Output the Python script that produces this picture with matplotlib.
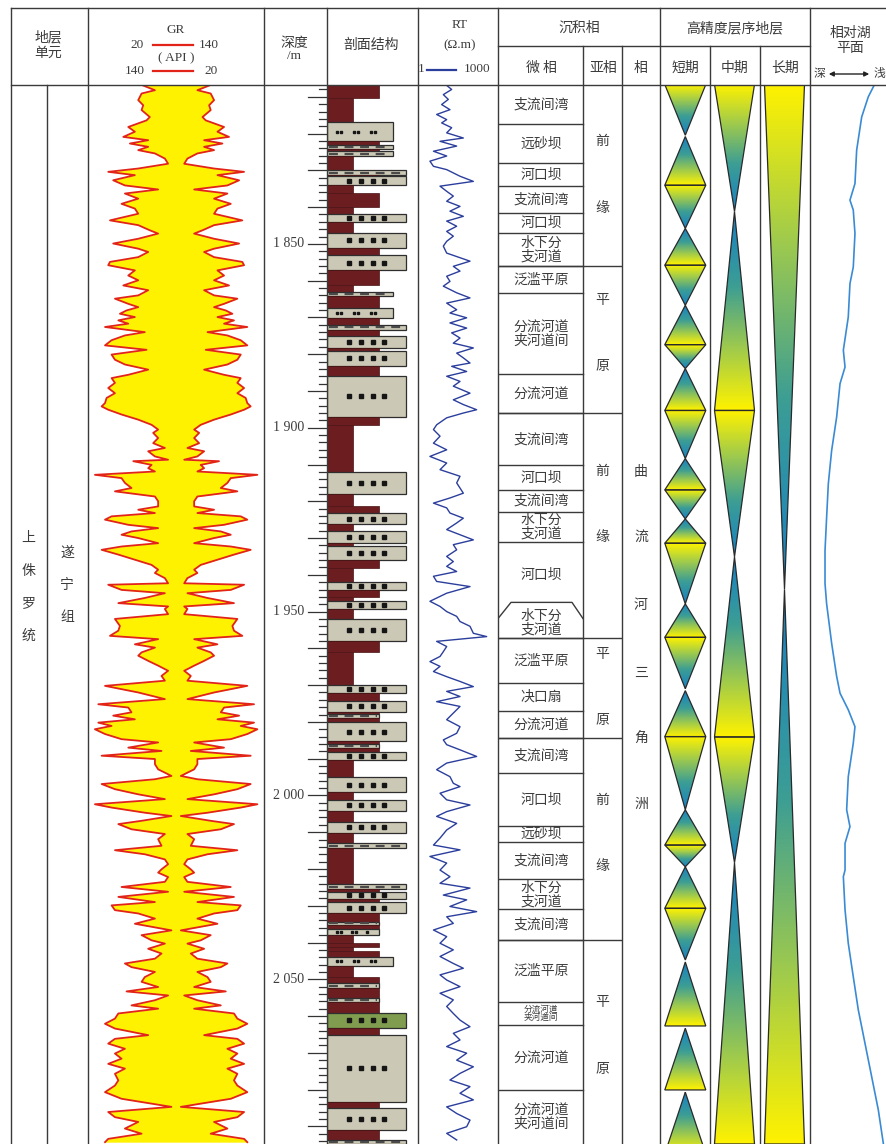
import numpy as np
import matplotlib
matplotlib.use('Agg')
import matplotlib.pyplot as plt
from matplotlib.patches import Polygon, Rectangle
from matplotlib.colors import LinearSegmentedColormap

# 中文字体 + 回退
plt.rcParams['font.family'] = ['Noto Sans CJK SC', 'DejaVu Sans']
SERIF = ['Liberation Serif', 'DejaVu Serif']

# ---------------- 数据 (深度 m) ----------------
# GR 曲线 (深度, API)
GR_PTS = [
    (1806.4, 54.1), (1808.2, 65.5), (1809.1, 56.4), (1810.9, 54.1), (1812.3, 57.5), (1813.6, 56.4),
    (1815.5, 62.0), (1816.4, 59.8), (1818.2, 47.3), (1819.5, 51.8), (1820.9, 43.9), (1821.8, 60.9),
    (1822.7, 48.4), (1823.6, 60.9), (1824.5, 54.1), (1825.4, 65.5), (1826.8, 72.3), (1828.2, 74.5),
    (1829.5, 54.1), (1830.4, 33.6), (1831.3, 51.8), (1832.7, 37.0), (1834.1, 45.0), (1835.2, 67.7),
    (1836.3, 45.0), (1837.7, 54.1), (1839.1, 42.7), (1840.4, 51.8), (1841.8, 54.1), (1843.6, 34.8),
    (1844.9, 54.1), (1846.3, 62.0), (1847.2, 67.7), (1848.6, 54.1), (1849.9, 37.0), (1851.3, 54.1),
    (1852.2, 60.9), (1853.6, 54.1), (1854.9, 34.8), (1855.8, 33.6), (1857.2, 51.8), (1858.6, 47.3),
    (1859.9, 54.1), (1861.3, 43.9), (1862.6, 60.9), (1864.0, 54.1), (1864.9, 38.2), (1866.3, 47.3),
    (1867.2, 54.1), (1868.1, 46.1), (1869.0, 41.6), (1869.9, 51.8), (1870.8, 40.5), (1871.7, 47.3),
    (1872.6, 31.4), (1874.0, 58.6), (1874.9, 45.0), (1876.2, 35.9), (1877.6, 31.4),
    (1878.8, 59.8), (1880.1, 35.9), (1881.5, 38.2), (1882.8, 45.0), (1884.2, 60.9), (1885.6, 47.3),
    (1886.5, 35.9), (1887.8, 38.2), (1889.2, 33.6), (1890.6, 38.2), (1891.9, 32.5), (1893.3, 31.4),
    (1894.2, 29.1), (1895.1, 33.6), (1896.4, 42.7), (1897.8, 54.1), (1899.2, 63.2), (1900.5, 67.7),
    (1901.4, 64.3), (1902.8, 67.7), (1904.2, 64.3), (1905.5, 72.3), (1906.4, 60.9), (1907.8, 65.5),
    (1908.7, 74.5), (1909.1, 50.7), (1910.1, 63.2), (1911.0, 60.9), (1911.9, 65.5), (1912.8, 24.5),
    (1913.7, 42.7), (1915.0, 45.0), (1916.4, 49.5), (1917.3, 38.2), (1918.7, 65.5), (1920.0, 67.7),
    (1921.4, 67.7), (1922.3, 54.1), (1923.2, 65.5), (1924.1, 35.9), (1925.0, 31.4), (1926.4, 47.3),
    (1927.3, 67.7), (1928.2, 49.5), (1929.1, 42.7), (1930.0, 54.1), (1931.4, 67.7), (1932.3, 42.7),
    (1933.2, 29.1), (1934.5, 40.5), (1935.9, 51.8), (1937.3, 63.2), (1938.6, 67.7), (1939.5, 65.5),
    (1940.9, 72.3), (1942.3, 74.5), (1942.7, 33.6), (1944.1, 42.7), (1945.0, 72.3), (1946.3, 58.6),
    (1947.7, 40.5), (1948.6, 74.5),
    (1949.3, 72.3), (1950.7, 74.5), (1952.0, 38.2), (1953.9, 41.6), (1955.2, 40.5), (1956.6, 34.8),
    (1957.5, 67.7), (1958.9, 51.8), (1959.8, 65.5), (1961.1, 56.4), (1962.0, 54.1), (1963.4, 60.9),
    (1964.7, 67.7), (1966.1, 74.5), (1967.5, 70.0), (1968.8, 72.3), (1970.2, 31.4), (1972.0, 54.1),
    (1973.8, 72.3), (1975.2, 26.8), (1976.1, 47.3), (1977.4, 49.5), (1978.3, 37.0), (1979.3, 51.8),
    (1980.2, 26.8), (1981.1, 35.9), (1982.0, 24.5), (1983.3, 31.4), (1984.7, 42.7), (1985.6, 67.7),
    (1987.0, 47.3), (1987.9, 70.0), (1989.2, 29.1), (1990.1, 65.5), (1991.5, 65.5), (1992.9, 67.7),
    (1994.7, 76.8), (1995.6, 65.5), (1996.9, 29.1), (1998.3, 38.2), (1999.7, 54.1), (2001.0, 72.3),
    (2002.4, 24.5), (2003.3, 35.9), (2004.7, 58.6), (2005.6, 76.8), (2006.9, 56.4), (2007.8, 40.5),
    (2009.2, 49.5), (2010.5, 72.3), (2011.9, 67.7), (2013.7, 70.0), (2014.9, 38.2), (2016.0, 58.6),
    (2017.4, 72.3), (2018.7, 74.5), (2020.1, 70.0), (2021.0, 67.7),
    (2022.2, 74.5), (2023.5, 72.3), (2024.9, 42.7), (2026.2, 74.5), (2027.6, 40.5), (2029.0, 65.5),
    (2029.9, 35.9), (2031.2, 38.2), (2032.1, 54.1), (2033.5, 65.5), (2034.9, 51.8), (2036.7, 76.8),
    (2038.0, 56.4), (2039.4, 63.2), (2040.3, 72.3), (2041.7, 60.9), (2043.0, 70.0), (2044.4, 65.5),
    (2045.7, 45.0), (2046.7, 49.5), (2048.0, 65.5), (2049.4, 58.6), (2050.7, 56.4), (2052.1, 67.7),
    (2053.3, 46.1), (2054.4, 74.5), (2055.7, 65.5), (2057.1, 49.5), (2058.0, 67.7), (2059.3, 40.5),
    (2060.7, 38.2), (2062.1, 31.4), (2063.4, 38.2), (2065.2, 60.9), (2066.2, 38.2), (2067.5, 33.6),
    (2068.9, 45.0), (2070.2, 38.2), (2071.6, 42.7), (2073.0, 33.6), (2074.3, 45.0), (2075.7, 38.2),
    (2077.5, 40.5), (2078.9, 38.2), (2080.7, 31.4), (2082.5, 42.7), (2084.7, 76.8), (2086.1, 33.6),
    (2087.5, 38.2), (2088.8, 54.1), (2090.6, 45.0), (2092.0, 56.4), (2093.4, 33.6), (2094.3, 31.4),
]

# RT 曲线 (深度, Ω.m)
RT_PTS = [
    (1806.9, 11.9), (1808.0, 18.3), (1809.4, 8.9), (1810.7, 13.7), (1812.1, 7.7), (1813.5, 15.8),
    (1814.8, 5.0), (1816.2, 11.9), (1817.1, 7.7), (1818.4, 18.3), (1819.8, 11.9), (1821.2, 50.1),
    (1822.1, 6.7), (1823.4, 28.2), (1824.8, 3.8), (1826.1, 11.9), (1827.5, 2.8), (1828.9, 3.8),
    (1829.8, 11.9), (1831.6, 37.6), (1833.0, 119), (1834.3, 6.7), (1835.7, 11.9), (1837.0, 21.1),
    (1838.4, 11.9), (1839.8, 37.6), (1841.1, 15.8), (1842.5, 50.1), (1843.8, 11.9), (1845.2, 28.2),
    (1846.6, 11.9), (1847.9, 21.1), (1849.3, 11.9), (1850.6, 8.9), (1852.5, 11.9), (1854.7, 89.1),
    (1856.1, 21.1), (1857.4, 37.6), (1858.8, 11.9), (1860.2, 15.8), (1861.5, 8.9), (1863.3, 28.2),
    (1864.7, 89.1), (1866.1, 11.9), (1867.9, 28.2), (1868.8, 15.8), (1870.1, 66.8), (1871.5, 15.8),
    (1872.9, 66.8), (1874.2, 18.3), (1875.6, 37.6), (1877.0, 21.1), (1878.3, 119), (1879.7, 28.2),
    (1881.0, 50.1), (1882.4, 89.1), (1883.3, 18.3), (1884.7, 66.8), (1886.0, 11.9), (1887.4, 37.6),
    (1888.7, 21.1), (1890.6, 89.1), (1892.4, 21.1), (1893.7, 50.1), (1895.1, 158), (1896.0, 50.1),
    (1897.3, 11.9), (1899.2, 5.0),
    (1900.5, 3.8), (1902.3, 6.7), (1904.2, 3.8), (1906.0, 11.9), (1907.8, 2.8), (1909.6, 11.9),
    (1911.4, 6.7), (1913.2, 37.6), (1915.0, 28.2), (1917.8, 50.1), (1919.1, 15.8), (1920.5, 3.8),
    (1921.8, 11.9), (1923.2, 15.8), (1924.6, 50.1), (1925.9, 28.2), (1927.7, 11.9), (1929.1, 37.6),
    (1930.5, 119), (1931.8, 21.1), (1933.2, 28.2), (1935.0, 11.9), (1936.4, 21.1), (1937.7, 11.9),
    (1939.1, 28.2), (1940.4, 3.8), (1941.8, 5.0), (1943.2, 89.1), (1945.0, 11.9), (1946.3, 5.0),
    (1947.2, 2.8), (1948.6, 6.7), (1950.0, 11.9), (1951.3, 28.2), (1952.7, 37.6), (1954.0, 89.1),
    (1955.9, 119), (1956.8, 376), (1958.1, 5.0), (1959.5, 11.9), (1960.9, 8.9), (1962.2, 6.7),
    (1963.6, 2.8), (1964.9, 6.7), (1966.3, 3.8), (1967.7, 11.9), (1969.0, 37.6), (1970.4, 119),
    (1971.7, 11.9), (1973.1, 37.6), (1974.5, 5.0), (1975.8, 37.6), (1977.6, 21.1), (1979.4, 11.9),
    (1981.3, 37.6), (1983.1, 28.2), (1984.9, 8.9), (1986.2, 11.9), (1987.6, 37.6), (1989.4, 158),
    (1991.2, 11.9), (1993.0, 5.0), (1994.9, 15.8), (1996.7, 21.1),
    (1997.6, 37.6), (1999.4, 6.7), (2001.2, 11.9), (2002.6, 89.1), (2004.4, 11.9), (2005.7, 5.0),
    (2007.6, 28.2), (2009.4, 11.9), (2011.6, 6.7), (2013.5, 3.8), (2014.8, 37.6), (2016.6, 2.8),
    (2018.4, 11.9), (2020.3, 6.7), (2022.1, 15.8), (2023.9, 6.7), (2025.2, 89.1), (2027.1, 8.9),
    (2028.4, 66.8), (2030.2, 15.8), (2031.6, 158), (2033.0, 11.9), (2034.8, 21.1), (2036.6, 3.8),
    (2038.4, 11.9), (2040.2, 6.7), (2042.0, 21.1), (2043.8, 6.7), (2045.7, 21.1), (2047.0, 50.1),
    (2048.8, 6.7), (2050.2, 11.9), (2052.0, 37.6), (2053.8, 6.7), (2055.6, 21.1), (2057.4, 11.9),
    (2059.3, 21.1), (2061.1, 37.6), (2062.9, 89.1), (2064.7, 21.1), (2066.5, 37.6), (2068.3, 11.9),
    (2070.1, 66.8), (2072.0, 28.2), (2073.8, 119), (2075.6, 37.6), (2077.4, 15.8), (2079.2, 89.1),
    (2081.0, 37.6), (2082.8, 119), (2084.7, 11.9), (2086.5, 28.2), (2088.3, 89.1), (2090.1, 66.8),
    (2091.9, 11.9), (2093.7, 28.2),
]

# 相对湖平面 (深度, 0=深 1=浅)
LAKE_PTS = [
    (1806.4, 0.844), (1810.0, 0.757), (1815.5, 0.671), (1824.5, 0.606), (1833.6, 0.584),
    (1838.1, 0.519), (1840.8, 0.562), (1847.2, 0.584), (1856.3, 0.562), (1860.8, 0.519),
    (1869.9, 0.497), (1878.9, 0.433), (1883.5, 0.455), (1888.0, 0.390), (1897.1, 0.346),
    (1906.2, 0.281), (1915.2, 0.238), (1924.3, 0.216), (1933.4, 0.195), (1942.4, 0.195),
    (1947.9, 0.216), (1958.6, 0.281), (1967.6, 0.346), (1972.2, 0.390), (1976.7, 0.497),
    (1981.3, 0.584), (1985.8, 0.562), (1994.9, 0.497), (2003.9, 0.476), (2008.5, 0.519),
    (2013.0, 0.455), (2020.3, 0.455), (2022.1, 0.433), (2031.1, 0.455), (2040.2, 0.497),
    (2049.3, 0.562), (2058.3, 0.627), (2067.4, 0.714), (2076.5, 0.801), (2085.5, 0.887),
    (2094.6, 0.952),
]

# 岩性 (顶, 底, 类型)
LITH = [
    (1806.65, 1810.3, 'smud'), (1810.3, 1816.9, 'mud'), (1816.9, 1822.1, 'silt'),
    (1822.1, 1823.0, 'smud'), (1823.0, 1824.1, 'dsilt'), (1824.1, 1824.8, 'smud'),
    (1824.8, 1826.2, 'dsilt'), (1826.2, 1830.0, 'mud'), (1830.0, 1831.2, 'dsand'),
    (1831.2, 1831.5, 'smud'), (1831.5, 1834.1, 'sand'), (1834.1, 1836.1, 'mud'),
    (1836.1, 1840.0, 'smud'), (1840.0, 1842.0, 'mud'), (1842.0, 1844.1, 'sand'),
    (1844.1, 1847.0, 'mud'), (1847.0, 1851.1, 'sand'), (1851.1, 1853.1, 'smud'),
    (1853.1, 1857.2, 'sand'), (1857.2, 1861.1, 'smud'), (1861.1, 1863.1, 'mud'),
    (1863.1, 1864.3, 'dsilt'), (1864.3, 1867.3, 'smud'), (1867.3, 1870.2, 'silt'),
    (1870.2, 1872.0, 'smud'), (1872.0, 1873.3, 'dsand'), (1873.3, 1875.1, 'smud'),
    (1875.1, 1878.3, 'sand'), (1878.3, 1879.2, 'smud'), (1879.2, 1883.1, 'sand'),
    (1883.1, 1885.8, 'smud'), (1885.8, 1897.1, 'sand'), (1897.1, 1899.2, 'smud'),
    (1899.2, 1912.1, 'mud'), (1912.1, 1918.0, 'sand'), (1918.0, 1921.2, 'mud'),
    (1921.2, 1923.2, 'smud'), (1923.2, 1926.2, 'sand'), (1926.2, 1928.0, 'mud'),
    (1928.0, 1931.4, 'sand'), (1931.4, 1932.1, 'mud'), (1932.1, 1936.1, 'sand'),
    (1936.1, 1938.2, 'smud'), (1938.2, 1942.0, 'mud'), (1942.0, 1944.1, 'sand'),
    (1944.1, 1945.9, 'smud'), (1945.9, 1947.1, 'mud'), (1947.1, 1949.2, 'sand'),
    (1949.2, 1952.0, 'mud'), (1952.0, 1958.1, 'sand'), (1958.1, 1961.1, 'smud'),
    (1961.1, 1969.9, 'mud'), (1969.9, 1972.2, 'sand'), (1972.2, 1974.2, 'smud'),
    (1974.2, 1977.2, 'sand'), (1977.2, 1977.8, 'smud'), (1977.8, 1979.0, 'dmud'),
    (1979.0, 1980.1, 'smud'), (1980.1, 1985.3, 'sand'), (1985.3, 1986.0, 'smud'),
    (1986.0, 1987.2, 'dmud'), (1987.2, 1988.1, 'smud'), (1988.1, 1990.3, 'sand'),
    (1990.3, 1995.1, 'mud'), (1995.1, 1999.2, 'sand'), (1999.2, 2001.2, 'mud'),
    (2001.2, 2004.2, 'sand'), (2004.2, 2007.3, 'mud'), (2007.3, 2010.1, 'sand'),
    (2010.1, 2013.0, 'mud'), (2013.0, 2014.4, 'dsand'), (2014.4, 2024.1, 'mud'),
    (2024.1, 2025.5, 'dsand'), (2025.5, 2026.2, 'smud'), (2026.2, 2028.2, 'sand'),
    (2028.2, 2029.1, 'smud'), (2029.1, 2032.0, 'sand'), (2032.0, 2034.3, 'smud'),
    (2034.3, 2035.2, 'dmud'), (2035.2, 2036.4, 'smud'), (2036.4, 2038.0, 'msilt'),
    (2038.0, 2040.2, 'mud'), (2040.2, 2041.3, 'smud'), (2041.3, 2042.2, 'mud'),
    (2042.2, 2044.0, 'smud'), (2044.0, 2046.3, 'silt'), (2046.3, 2049.3, 'mud'),
    (2049.3, 2051.1, 'smud'), (2051.1, 2052.4, 'dmud'), (2052.4, 2055.2, 'smud'),
    (2055.2, 2056.1, 'dmud'), (2056.1, 2059.2, 'smud'), (2059.2, 2063.2, 'gsand'),
    (2063.2, 2065.2, 'smud'), (2065.2, 2083.3, 'sand'), (2083.3, 2085.1, 'smud'),
    (2085.1, 2091.0, 'sand'), (2091.0, 2093.7, 'smud'), (2093.7, 2094.8, 'dsand'),
]

# 沉积微相
MICRO_BOUNDS = [1806.65, 1817.5, 1828.1, 1834.2, 1841.6, 1847.0, 1856.1, 1863.3, 1885.5, 1896.0,
                1910.2, 1917.0, 1922.8, 1931.1, 1948.7, 1957.2, 1969.5, 1977.0, 1984.3, 1993.9,
                2008.3, 2012.8, 2022.8, 2031.0, 2039.3, 2056.1, 2062.4, 2080.1, 2094.8]
MICRO_NAMES = ['支流间湾', '远砂坝', '河口坝', '支流间湾', '河口坝', '水下分\n支河道', '泛滥平原',
               '分流河道\n夹河道间', '分流河道', '支流间湾', '河口坝', '支流间湾', '水下分\n支河道',
               '河口坝', '水下分\n支河道', '泛滥平原', '决口扇', '分流河道', '支流间湾', '河口坝',
               '远砂坝', '支流间湾', '水下分\n支河道', '支流间湾', '泛滥平原', '分流河道\n夹河道间',
               '分流河道', '分流河道\n夹河道间']

# 亚相
SUB_BOUNDS = [1806.65, 1856.1, 1896.0, 1957.2, 1984.3, 2039.3, 2094.8]
SUB_NAMES = ['前缘', '平原', '前缘', '平原', '前缘', '平原']
SUB_LABEL_D = [1831.1, 1874.3, 1920.8, 1970.6, 2010.3, 2065.3]

# 相
FACIES_NAME = '曲流河三角洲'
FACIES_D = [1912.1, 1929.8, 1948.3, 1966.8, 1984.5, 2002.2]

# 层序旋回 (顶, 底, 形态) v: 上宽下尖, ^: 上尖下宽
SHORT_SEG = [
    (1806.65, 1820.45, 'v'), (1820.8, 1834.05, '^'), (1834.05, 1845.8, 'v'), (1845.8, 1855.8, '^'),
    (1855.8, 1866.7, 'v'), (1866.7, 1877.4, '^'), (1877.4, 1883.9, 'v'), (1883.9, 1895.3, '^'),
    (1895.3, 1908.4, 'v'), (1908.4, 1916.9, '^'), (1916.9, 1924.8, 'v'), (1924.8, 1931.4, '^'),
    (1931.4, 1947.9, 'v'), (1947.9, 1957.0, '^'), (1957.0, 1971.0, 'v'), (1971.5, 1984.0, '^'),
    (1984.0, 2003.9, 'v'), (2003.9, 2013.5, '^'), (2013.5, 2019.4, 'v'), (2019.4, 2030.7, '^'),
    (2030.7, 2044.75, 'v'), (2045.3, 2062.7, '^'), (2063.3, 2080.1, '^'), (2080.7, 2097.5, '^'),
]
MID_SEG = [
    (1806.65, 1841.2, 'v'), (1841.2, 1895.3, '^'), (1895.3, 1935.1, 'v'),
    (1935.1, 1984.1, '^'), (1984.1, 2018.3, 'v'), (2018.3, 2094.8, '^'),
]
LONG_SEG = [(1806.65, 1944.0, 'v'), (1944.0, 2094.8, '^')]

DEPTH_LABELS = [1850, 1900, 1950, 2000, 2050]

# ---------------- 布局 ----------------
W, H = 887, 1144
HEAD = 84.5
TOP_D, BOT_D = 1806.65, 2094.8
LINE = '#3a3a3a'
TXT = '#3c3c3c'

fig = plt.figure(figsize=(W / 100, H / 100), dpi=100)


def col_ax(x0, x1, xlim):
    ax = fig.add_axes([x0 / W, 0, (x1 - x0) / W, (H - HEAD) / H])
    ax.set_xlim(*xlim)
    ax.set_ylim(BOT_D, TOP_D)
    ax.axis('off')
    return ax


# GR 曲线 (镜像充填)
gr_d, gr_v = np.array(GR_PTS).T
ax = col_ax(88.3, 264, (20, 140))
ax.fill_betweenx(gr_d, gr_v, 160 - gr_v, color='#fff200', lw=0)
ax.plot(gr_v, gr_d, color='#e2231a', lw=1.3)
ax.plot(160 - gr_v, gr_d, color='#e2231a', lw=1.3)

# 深度道
ax = col_ax(264, 327, (264, 327))
for d in range(1808, 2095, 2):
    x0 = 308 if d % 10 == 0 else 319
    ax.plot([x0, 327], [d, d], color='#333333', lw=0.9)
for d in DEPTH_LABELS:
    ax.text(304, d, f'{d // 1000} {d % 1000:03d}', ha='right', va='center',
            family=SERIF, fontsize=10, color=TXT)

# 剖面结构 (岩性)
LITH_W = {'mud': 26, 'smud': 52, 'silt': 66, 'sand': 79, 'dsilt': 66, 'dsand': 79,
          'dmud': 52, 'msilt': 52, 'gsand': 79}
ax = col_ax(327, 418, (0, 91))
for top, base, kind in LITH:
    w = LITH_W[kind]
    mid = (top + base) / 2
    if kind in ('mud', 'smud'):
        ax.add_patch(Rectangle((0, top), w, base - top, facecolor='#6b1d20',
                               edgecolor='#4a1214', lw=0.5))
        continue
    fc = '#7f9c4f' if kind == 'gsand' else '#cbc8b5'
    ax.add_patch(Rectangle((0, top), w, base - top, facecolor=fc, edgecolor='#2e2e2e', lw=0.9))
    if kind in ('sand', 'gsand'):
        ax.plot([22, 34, 46, 57], [mid] * 4, 's', ms=2.3, color='#151515')
    elif kind == 'silt':
        ax.plot([10, 14, 27, 31, 44, 48], [mid] * 6, 's', ms=2.0, color='#151515')
    elif kind == 'msilt':
        ax.plot([10, 14, 25, 29, 40], [mid] * 5, 's', ms=2.0, color='#151515')
    else:
        ax.hlines(mid, 2, w - 2, colors='#4a4a4a', linestyles=(0, (4, 3)), lw=1.6)

# RT 曲线
rt_d, rt_v = np.array(RT_PTS).T
ax = col_ax(418, 498, (1, 1000))
ax.set_xscale('log')
ax.set_xlim(1, 1000)
ax.plot(rt_v, rt_d, color='#2b3e9c', lw=1.0)

# 沉积相
ax = col_ax(498, 622, (498, 622))
for i, name in enumerate(MICRO_NAMES):
    t, b = MICRO_BOUNDS[i], MICRO_BOUNDS[i + 1]
    fs = 6.2 if (name.startswith('分流河道\n') and b - t < 8) else 10
    ax.text(541, (t + b) / 2, name, ha='center', va='center', fontsize=fs,
            color=TXT, linespacing=0.95)
for d in MICRO_BOUNDS[1:-1]:
    if d == 1948.7:
        ax.plot([498, 511, 572, 583], [1951.9, 1947.5, 1947.5, 1951.9], color=LINE, lw=1.0)
    else:
        ax.plot([498, 583], [d, d], color=LINE, lw=1.0)
for d in SUB_BOUNDS[1:-1]:
    ax.plot([498, 622], [d, d], color=LINE, lw=1.0)
for name, d in zip(SUB_NAMES, SUB_LABEL_D):
    ax.text(602.5, d - 9, name[0], ha='center', va='center', fontsize=10, color=TXT)
    ax.text(602.5, d + 9, name[1], ha='center', va='center', fontsize=10, color=TXT)

ax = col_ax(622, 660, (622, 660))
for ch, d in zip(FACIES_NAME, FACIES_D):
    ax.text(641, d, ch, ha='center', va='center', fontsize=10, color=TXT)

# 高精度层序地层
cmap = LinearSegmentedColormap.from_list(
    'seq', [(0, '#1580c6'), (0.38, '#3d9e93'), (0.68, '#9cc94f'), (1, '#fff200')])
grad = np.linspace(0, 1, 256).reshape(-1, 1)
ax = col_ax(660, 810, (660, 810))


def draw_cycles(segs, cx, hw):
    for t, b, k in segs:
        if k == 'v':
            pts = [(cx - hw, t), (cx + hw, t), (cx, b)]
            img = grad[::-1]
        else:
            pts = [(cx, t), (cx + hw, b), (cx - hw, b)]
            img = grad
        im = ax.imshow(img, cmap=cmap, vmin=0, vmax=1, extent=(cx - hw, cx + hw, b, t),
                       aspect='auto', origin='upper', interpolation='bilinear', zorder=1)
        poly = Polygon(pts, closed=True, facecolor='none', edgecolor='#2a2a2a', lw=0.9, zorder=2)
        ax.add_patch(poly)
        im.set_clip_path(poly)


draw_cycles(SHORT_SEG, 685.3, 20.5)
draw_cycles(MID_SEG, 734.5, 20.0)
draw_cycles(LONG_SEG, 784.5, 20.0)
ax.set_xlim(660, 810)
ax.set_ylim(BOT_D, TOP_D)

# 相对湖平面
lk_d, lk_v = np.array(LAKE_PTS).T
ax = col_ax(810, 887, (0, 1))
ax.plot(lk_v, lk_d, color='#3a8ad4', lw=1.2)

# ---------------- 表头与框线 ----------------
ov = fig.add_axes([0, 0, 1, 1], zorder=10)
ov.set_xlim(0, W)
ov.set_ylim(H, 0)
ov.axis('off')

T0 = 7.5
for x in [10.7, 88.3, 264, 327, 418, 498, 660, 810]:
    ov.plot([x, x], [T0, H], color=LINE, lw=1.0)
for x in [583, 622, 710, 760]:
    ov.plot([x, x], [45.7, H], color=LINE, lw=1.0)
ov.plot([46.7, 46.7], [HEAD, H], color=LINE, lw=1.0)
ov.plot([10.7, W], [T0, T0], color=LINE, lw=1.0)
ov.plot([10.7, W], [HEAD, HEAD], color=LINE, lw=1.0)
ov.plot([498, 810], [45.7, 45.7], color=LINE, lw=1.0)

hd = dict(ha='center', va='center', fontsize=10, color=TXT)
sf = dict(ha='center', va='center', fontsize=9.5, color=TXT, family=SERIF)
ov.text(48, 45, '地层\n单元', linespacing=1.15, **hd)
ov.text(176, 30, 'GR', **sf)
ov.text(137, 45, '20', **sf)
ov.text(209, 45, '140', **sf)
ov.text(176, 58, '( API )', **sf)
ov.text(135, 71.5, '140', **sf)
ov.text(211, 71.5, '20', **sf)
ov.plot([153, 193], [44.5, 44.5], color='#e2231a', lw=1.6)
ov.plot([153, 193], [71, 71], color='#e2231a', lw=1.6)
ov.text(294, 43, '深度', **hd)
ov.text(294, 56, '/m', **sf)
ov.text(371, 45, '剖面结构', **hd)
ov.text(460, 25, 'RT', **sf)
ov.text(460, 45, '(Ω.m)', **sf)
ov.text(421, 69.5, '1', **sf)
ov.plot([427, 456], [69.5, 69.5], color='#2b3e9c', lw=1.6)
ov.text(477, 69.5, '1000', **sf)
ov.text(579, 28, '沉积相', **hd)
ov.text(541, 68, '微 相', **hd)
ov.text(603, 68, '亚相', **hd)
ov.text(641, 68, '相', **hd)
ov.text(735, 28, '高精度层序地层', **hd)
ov.text(685, 68, '短期', **hd)
ov.text(735, 68, '中期', **hd)
ov.text(785, 68, '长期', **hd)
ov.text(850, 40, '相对湖\n平面', linespacing=1.1, **hd)
ov.text(819, 74, '深', ha='center', va='center', fontsize=8.5, color=TXT)
ov.text(879, 74, '浅', ha='center', va='center', fontsize=8.5, color=TXT)
ov.annotate('', xy=(872, 74), xytext=(826, 74),
            arrowprops=dict(arrowstyle='<|-|>', color='#222222', lw=1.0, mutation_scale=7))

# 地层单元
for i, ch in enumerate('上侏罗统'):
    ov.text(28.5, 538 + i * 32.5, ch, ha='center', va='center', fontsize=10, color=TXT)
for i, ch in enumerate('遂宁组'):
    ov.text(67, 553 + i * 32, ch, ha='center', va='center', fontsize=10, color=TXT)

fig.savefig('out.png', dpi=100)
